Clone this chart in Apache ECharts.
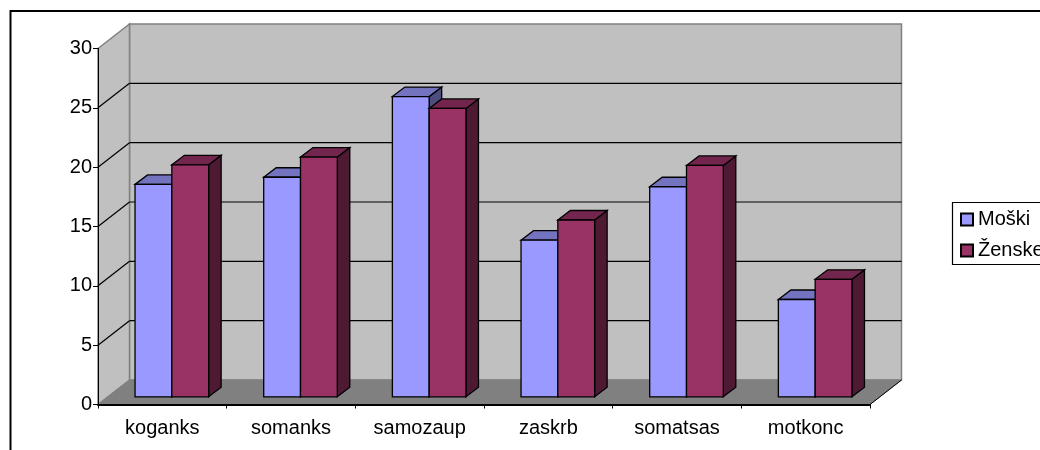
<!DOCTYPE html>
<html><head><meta charset="utf-8">
<style>html,body{margin:0;padding:0;background:#fff}#c{width:1040px;height:450px}</style>
<script src="https://cdn.jsdelivr.net/npm/echarts@6/dist/echarts.min.js"></script>
</head><body><div id="c"></div>
<script>
const categories = ['koganks','somanks','samozaup','zaskrb','somatsas','motkonc'];
const moski = [17.9,18.5,25.3,13.2,17.7,8.2];
const zenske = [19.55,20.2,24.3,14.9,19.5,9.9];
const gridTicks = [5,10,15,20,25,30];
const yMax = 30;

const FONT = '"Liberation Sans", Arial, sans-serif';
const WALL = {dx:31.5, dy:-24.5};
const BAR_FRONT = {dx:9.5, dy:-7.7};
const BAR_DEPTH = {dx:12.5, dy:-9.5};
const BAR_RATIO = 0.286;

const chart = echarts.init(document.getElementById('c'), null, {renderer:'canvas'});

function poly(points, fill, stroke, lw){
  return {type:'polygon', shape:{points}, style:{fill, stroke, lineWidth:lw}};
}
function line(a, b, stroke, lw){
  return {type:'line', shape:{x1:a[0],y1:a[1],x2:b[0],y2:b[1]}, style:{stroke, lineWidth:lw}};
}
function renderWalls(params, api){
  const n = categories.length;
  const o = api.coord([0,0]);
  const band = api.size([1,0])[0];
  const x0 = o[0]-band/2, x1 = x0+band*n, y0 = o[1];
  const yT = api.coord([0,yMax])[1];
  const dx = WALL.dx, dy = WALL.dy;
  const kids = [
    poly([[x0+dx,yT+dy],[x1+dx,yT+dy],[x1+dx,y0+dy],[x0+dx,y0+dy]],'#c0c0c0','#808080',1.5),
    poly([[x0,yT],[x0+dx,yT+dy],[x0+dx,y0+dy],[x0,y0]],'#c0c0c0','#808080',1.5),
    poly([[x0,y0],[x1,y0],[x1+dx,y0+dy],[x0+dx,y0+dy]],'#808080','#808080',1)
  ];
  gridTicks.forEach(t=>{
    const y = api.coord([0,t])[1];
    if(t<yMax){
      kids.push(line([x0+dx,y+dy],[x1+dx,y+dy],'#000',1.2));
      kids.push(line([x0,y],[x0+dx,y+dy],'#000',1.2));
    }
  });
  kids.push(line([x1,y0],[x1+dx,y0+dy],'#000',1));
  return {type:'group', children:kids};
}
function barRenderer(seriesIdx, front, top, side){
  return function(params, api){
    const i = api.value(0), v = api.value(1);
    const band = api.size([1,0])[0];
    const w = band*BAR_RATIO;
    const c = api.coord([i,0]);
    const t = api.coord([i,v]);
    const xl = c[0]+BAR_FRONT.dx+(seriesIdx-1)*w, xr = xl+w;
    const yb = c[1]+BAR_FRONT.dy, yt = t[1]+BAR_FRONT.dy;
    const dx = BAR_DEPTH.dx, dy = BAR_DEPTH.dy;
    const s = '#000', lw = 1.3;
    return {type:'group', children:[
      poly([[xr,yt],[xr+dx,yt+dy],[xr+dx,yb+dy],[xr,yb]],side,s,lw),
      poly([[xl,yt],[xl+dx,yt+dy],[xr+dx,yt+dy],[xr,yt]],top,s,lw),
      poly([[xl,yt],[xr,yt],[xr,yb],[xl,yb]],front,s,lw)
    ]};
  };
}
const pairs = a => a.map((v,i)=>[i,v]);

chart.setOption({
  animation:false,
  backgroundColor:'#fff',
  textStyle:{fontFamily:FONT},
  graphic:[{type:'rect', silent:true, z:-1,
    shape:{x:10.5,y:11,width:1200,height:600},
    style:{fill:'none',stroke:'#000',lineWidth:2}}],
  grid:{left:98,top:48.5,width:772,height:356,containLabel:false},
  xAxis:{type:'category',data:categories,z:5,
    axisLine:{lineStyle:{color:'#000',width:2}},
    axisTick:{show:true,alignWithLabel:false,length:4,lineStyle:{color:'#000',width:1}},
    axisLabel:{color:'#000',fontSize:20,margin:14,fontFamily:FONT,interval:0},
    splitLine:{show:false}},
  yAxis:{type:'value',min:0,max:yMax,interval:5,z:5,
    axisLine:{show:true,lineStyle:{color:'#000',width:1}},
    axisTick:{show:true,length:5,lineStyle:{color:'#000',width:1}},
    axisLabel:{color:'#000',fontSize:20,margin:6,fontFamily:FONT},
    splitLine:{show:false}},
  legend:{show:true,orient:'vertical',left:952.5,top:202.5,padding:[7,40,4,7.5],
    backgroundColor:'#fff',borderColor:'#000',borderWidth:1.2,borderRadius:0,
    data:['Moški','Ženske'],icon:'rect',itemWidth:12,itemHeight:12,itemGap:11,
    textStyle:{color:'#000',fontSize:20,fontFamily:FONT,padding:[0,0,0,0]}},
  series:[
    {type:'custom',name:'walls',silent:true,clip:false,z:1,data:[[0,0]],renderItem:renderWalls},
    {type:'custom',name:'Moški',silent:true,clip:false,z:2,data:pairs(moski),
      itemStyle:{color:'#9999ff',borderColor:'#000',borderWidth:1.3},
      renderItem:barRenderer(0,'#9999ff','#7373bf','#4d4d80')},
    {type:'custom',name:'Ženske',silent:true,clip:false,z:3,data:pairs(zenske),
      itemStyle:{color:'#993366',borderColor:'#000',borderWidth:1.3},
      renderItem:barRenderer(1,'#993366','#73264d','#4d1933')}
  ]
});
</script></body></html>
